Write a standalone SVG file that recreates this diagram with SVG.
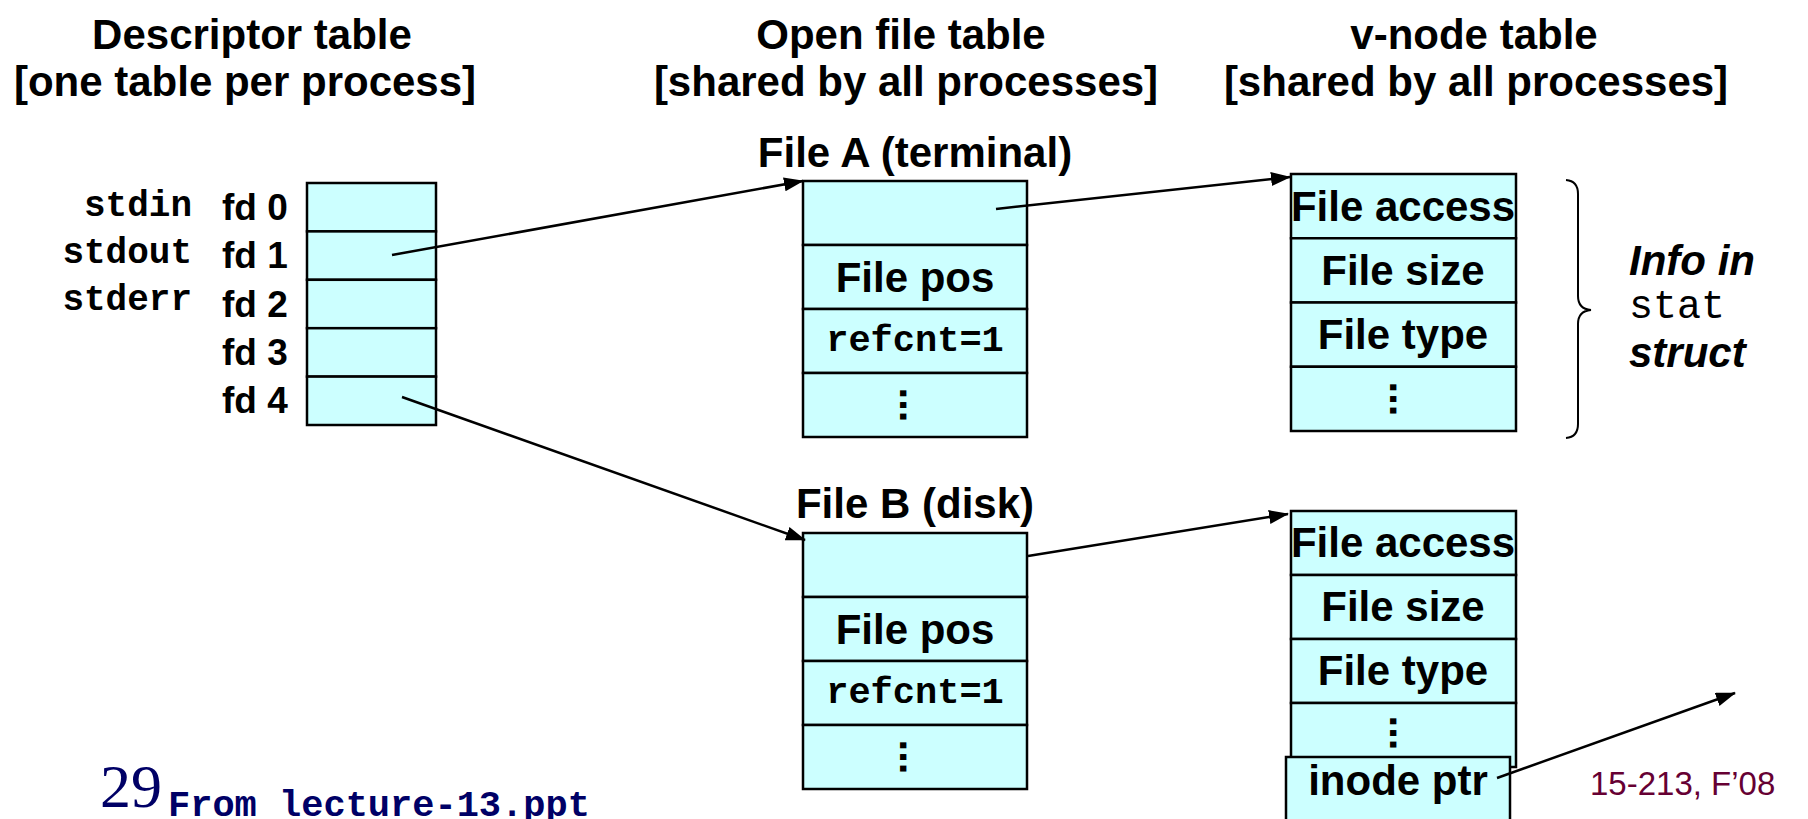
<svg xmlns="http://www.w3.org/2000/svg" width="1808" height="819" viewBox="0 0 1808 819">
  <style>
    .cell { fill: #ccffff; stroke: #000; stroke-width: 2.5; }
    .title { font-family: "Liberation Sans", Arial, sans-serif; font-weight: bold; font-size: 42px; fill: #000; text-anchor: middle; }
    .lbl { font-family: "Liberation Sans", Arial, sans-serif; font-weight: bold; font-size: 42px; fill: #000; text-anchor: middle; }
    .fd { font-family: "Liberation Sans", Arial, sans-serif; font-weight: bold; font-size: 37px; fill: #000; }
    .std { font-family: "Liberation Mono", "Courier New", monospace; font-weight: bold; font-size: 36px; fill: #000; text-anchor: end; }
    .mono { font-family: "Liberation Mono", "Courier New", monospace; font-weight: bold; font-size: 37px; fill: #000; text-anchor: middle; }
    .dots { font-family: "Liberation Sans", Arial, sans-serif; font-weight: bold; font-size: 42px; fill: #000; text-anchor: middle; }
    .note { font-family: "Liberation Sans", Arial, sans-serif; font-weight: bold; font-style: italic; font-size: 42px; fill: #000; }
    .conn { stroke: #000; stroke-width: 2.5; fill: none; marker-end: url(#arrow); }
  </style>
  <defs>
    <marker id="arrow" markerUnits="userSpaceOnUse" markerWidth="20" markerHeight="14" viewBox="0 0 20 14" refX="19" refY="7" orient="auto">
      <path d="M0,0 L20,7 L0,14 z" fill="#000"/>
    </marker>
  </defs>

  <rect width="1808" height="819" fill="#fff"/>

  <!-- column headings -->
  <g id="headings">
    <text class="title" x="252" y="49" font-size="40">Descriptor table</text>
    <text class="title" x="245" y="96">[one table per process]</text>
    <text class="title" x="901" y="49">Open file table</text>
    <text class="title" x="906" y="96">[shared by all processes]</text>
    <text class="title" x="1474" y="49">v-node table</text>
    <text class="title" x="1476" y="96">[shared by all processes]</text>
  </g>

  <!-- per-process descriptor table -->
  <g id="descriptor-table">
    <rect class="cell" x="307" y="183" width="129" height="48.4"/>
    <rect class="cell" x="307" y="231.4" width="129" height="48.4"/>
    <rect class="cell" x="307" y="279.8" width="129" height="48.4"/>
    <rect class="cell" x="307" y="328.2" width="129" height="48.4"/>
    <rect class="cell" x="307" y="376.6" width="129" height="48.4"/>
    <text class="std" x="192" y="216">stdin</text>
    <text class="std" x="192" y="263">stdout</text>
    <text class="std" x="192" y="310">stderr</text>
    <text class="fd" x="222" y="220">fd 0</text>
    <text class="fd" x="222" y="268">fd 1</text>
    <text class="fd" x="222" y="317">fd 2</text>
    <text class="fd" x="222" y="365">fd 3</text>
    <text class="fd" x="222" y="413">fd 4</text>
  </g>

  <!-- open file table entry A -->
  <g id="file-a">
    <text class="title" x="915" y="167">File A (terminal)</text>
    <rect class="cell" x="803" y="181" width="224" height="64"/>
    <rect class="cell" x="803" y="245" width="224" height="64"/>
    <rect class="cell" x="803" y="309" width="224" height="64"/>
    <rect class="cell" x="803" y="373" width="224" height="64"/>
    <text class="lbl" x="915" y="292">File pos</text>
    <text class="mono" x="915" y="351">refcnt=1</text>
    <text class="dots" transform="translate(900,405) rotate(90)">...</text>
  </g>

  <!-- open file table entry B -->
  <g id="file-b">
    <text class="title" x="915" y="518">File B (disk)</text>
    <rect class="cell" x="803" y="533" width="224" height="64"/>
    <rect class="cell" x="803" y="597" width="224" height="64"/>
    <rect class="cell" x="803" y="661" width="224" height="64"/>
    <rect class="cell" x="803" y="725" width="224" height="64"/>
    <text class="lbl" x="915" y="644">File pos</text>
    <text class="mono" x="915" y="703">refcnt=1</text>
    <text class="dots" transform="translate(900,757) rotate(90)">...</text>
  </g>

  <!-- v-node for file A -->
  <g id="vnode-a">
    <rect class="cell" x="1291" y="174" width="225" height="64.25"/>
    <rect class="cell" x="1291" y="238.25" width="225" height="64.25"/>
    <rect class="cell" x="1291" y="302.5" width="225" height="64.25"/>
    <rect class="cell" x="1291" y="366.75" width="225" height="64.25"/>
    <text class="lbl" x="1403" y="221">File access</text>
    <text class="lbl" x="1403" y="285">File size</text>
    <text class="lbl" x="1403" y="349">File type</text>
    <text class="dots" transform="translate(1390,399) rotate(90)">...</text>
  </g>

  <!-- stat struct annotation -->
  <g id="stat-note">
    <path d="M1566,180 Q1578,181 1578,194 L1578,296 Q1578,309 1591,310 Q1578,311 1578,324 L1578,424 Q1578,437 1566,438" fill="none" stroke="#000" stroke-width="2"/>
    <text class="note" x="1629" y="275">Info in</text>
    <text x="1629" y="318" font-family="Liberation Mono, 'Courier New', monospace" font-size="40" fill="#000">stat</text>
    <text class="note" x="1629" y="367">struct</text>
  </g>

  <!-- v-node for file B -->
  <g id="vnode-b">
    <rect class="cell" x="1291" y="511" width="225" height="64"/>
    <rect class="cell" x="1291" y="575" width="225" height="64"/>
    <rect class="cell" x="1291" y="639" width="225" height="64"/>
    <rect class="cell" x="1291" y="703" width="225" height="64"/>
    <text class="lbl" x="1403" y="557">File access</text>
    <text class="lbl" x="1403" y="621">File size</text>
    <text class="lbl" x="1403" y="685">File type</text>
    <text class="dots" transform="translate(1390,733) rotate(90)">...</text>
    <rect class="cell" x="1286" y="757" width="224" height="80"/>
    <text class="lbl" x="1398" y="795">inode ptr</text>
  </g>

  <!-- pointers between tables -->
  <g id="connectors">
    <line class="conn" x1="392" y1="255" x2="803" y2="181"/>
    <line class="conn" x1="996" y1="209" x2="1290" y2="177"/>
    <line class="conn" x1="402" y1="397" x2="805" y2="540"/>
    <line class="conn" x1="1028" y1="556" x2="1288" y2="514"/>
    <line class="conn" x1="1497" y1="778" x2="1735" y2="693"/>
  </g>

  <!-- slide footer -->
  <g id="footer">
    <text x="100" y="807" font-family="Liberation Serif, 'Times New Roman', serif" font-size="62" fill="#000066">29</text>
    <text x="168" y="816" font-family="Liberation Mono, 'Courier New', monospace" font-weight="bold" font-size="37" fill="#000066">From lecture-13.ppt</text>
    <text x="1590" y="795" font-family="Liberation Sans, Arial, sans-serif" font-size="33" fill="#660033">15-213, F’08</text>
  </g>
</svg>
